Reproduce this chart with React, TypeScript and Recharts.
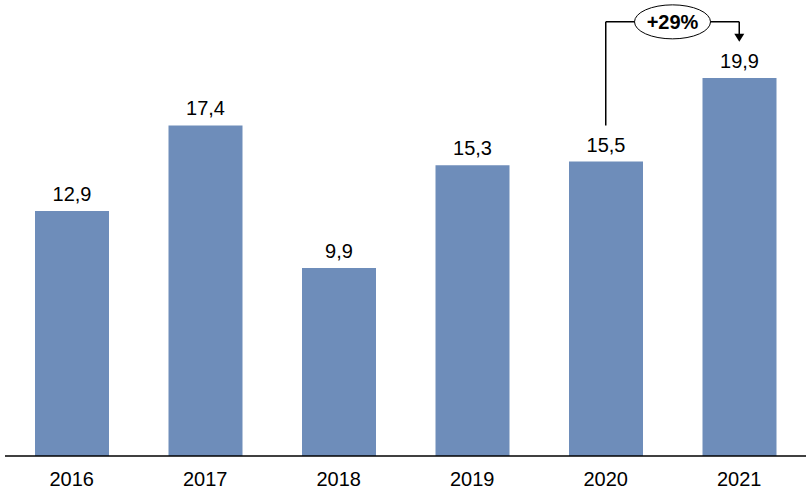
import { BarChart, Bar, XAxis, YAxis, LabelList, ReferenceLine } from 'recharts'

const years = ['2016', '2017', '2018', '2019', '2020', '2021']
const values = [12.9, 17.4, 9.9, 15.3, 15.5, 19.9]

// annotation levels, in value units
const bracketFrom = 17.4
const bracketTop = 22.85
const arrowTip = 21.8
const growthLabel = '+29%'

const data = years.map((year, i) => ({ year, value: values[i] }))

const font = '"Liberation Sans", Arial, sans-serif'
const barColor = '#6E8DBA'

const fmt = (v: number) => v.toFixed(1).replace('.', ',')

const ArrowShape = (props: any) => {
  const { x1, y1, x2, y2 } = props
  return (
    <g>
      <line x1={x1} y1={y1} x2={x2} y2={y2 - 7} stroke="#000" strokeWidth={1.5} />
      <polygon points={`${x2 - 5},${y2 - 8} ${x2 + 5},${y2 - 8} ${x2},${y2}`} fill="#000" />
    </g>
  )
}

const GrowthBubble = (props: any) => {
  const { viewBox } = props
  const cx = viewBox.x + viewBox.width / 2
  const cy = viewBox.y
  return (
    <g>
      <ellipse cx={cx} cy={cy} rx={38} ry={17} fill="#fff" stroke="#000" strokeWidth={1} />
      <text x={cx} y={cy + 7} textAnchor="middle" fontFamily={font} fontWeight="bold" fontSize={20} fill="#000">
        {growthLabel}
      </text>
    </g>
  )
}

export default function App() {
  return (
    <div style={{ width: 809, height: 501 }}>
      <style>{'body{margin:0}'}</style>
      <BarChart
        width={809}
        height={501}
        data={data}
        margin={{ top: 38, right: 3, bottom: 0, left: 5 }}
        barSize={74}
      >
        <XAxis
          dataKey="year"
          height={45}
          tickLine={false}
          axisLine={{ stroke: '#000', strokeWidth: 1.5 }}
          tick={{ fill: '#000', fontSize: 20, fontFamily: font }}
          tickMargin={10}
        />
        <YAxis hide domain={[0, 22]} allowDataOverflow />
        <Bar dataKey="value" fill={barColor} isAnimationActive={false}>
          <LabelList
            dataKey="value"
            position="top"
            offset={10}
            formatter={(v: any) => fmt(Number(v))}
            style={{ fill: '#000', fontSize: 20, fontFamily: font }}
          />
        </Bar>
        <ReferenceLine
          segment={[{ x: '2020', y: bracketFrom }, { x: '2020', y: bracketTop }]}
          stroke="#000"
          strokeWidth={1.5}
          ifOverflow="visible"
        />
        <ReferenceLine
          segment={[{ x: '2020', y: bracketTop }, { x: '2021', y: bracketTop }]}
          stroke="#000"
          strokeWidth={1.5}
          ifOverflow="visible"
          label={<GrowthBubble />}
        />
        <ReferenceLine
          segment={[{ x: '2021', y: bracketTop }, { x: '2021', y: arrowTip }]}
          ifOverflow="visible"
          shape={<ArrowShape />}
        />
      </BarChart>
    </div>
  )
}
